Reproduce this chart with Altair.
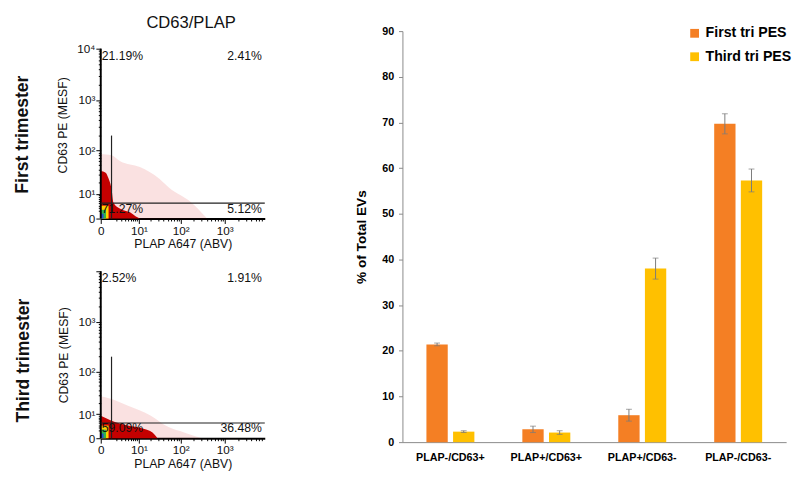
import altair as alt
import pandas as pd

FONT = "Liberation Sans"

# ---------------- bar chart data ----------------
CATS = ["PLAP-/CD63+", "PLAP+/CD63+", "PLAP+/CD63-", "PLAP-/CD63-"]
SERIES = ["First tri PES", "Third tri PES"]
COLORS = ["#F47F24", "#FFC000"]
FIRST_MEAN = [21.4, 2.8, 5.9, 69.7]
FIRST_ERR = [0.3, 0.7, 1.3, 2.2]
THIRD_MEAN = [2.3, 2.1, 38.0, 57.3]
THIRD_ERR = [0.2, 0.4, 2.3, 2.5]
Y_TICKS = [0, 10, 20, 30, 40, 50, 60, 70, 80, 90]

# ---------------- flow panel data ----------------
X_MAJOR = [0, 10, 100, 1000]
X_MINOR = [2, 3, 4, 5, 6, 7, 8, 9, 20, 30, 40, 50, 60, 70, 80, 90,
           200, 300, 400, 500, 600, 700, 800, 900,
           2000, 3000, 4000, 5000, 6000, 7000]
Y_MAJOR = [0, 10, 100, 1000, 10000]
Y_MINOR = [2, 3, 4, 5, 6, 7, 8, 9, 20, 30, 40, 50, 60, 70, 80, 90,
           200, 300, 400, 500, 600, 700, 800, 900,
           2000, 3000, 4000, 5000, 6000, 7000, 8000, 9000]
X_MAX = 8000
Y_MAX = 10000
Y_TOP_PANEL1 = 21925   # headroom above 10^4 in the first panel (aligns with bar chart top)
GATE_X = 1.2
GATE_Y = 5
GATE_TOP = 200

P1_DENSE_X = [0, 0.46, 0.8, 1.2, 1.5, 2.8, 5.7, 8.3, 10.6]
P1_DENSE_Y = [37, 34, 25, 14, 5.2, 2.8, 1.6, 0.5, 0]
P1_SPARSE_X = [0, 1.2, 2.8, 10.6, 31.9, 54, 177, 400]
P1_SPARSE_Y = [85, 80, 60, 45, 24.6, 14.8, 5.2, 0]
P1_PCTS = ["21.19%", "2.41%", "71.27%", "5.12%"]

P2_DENSE_X = [0, 1.2, 5.0, 12.6, 21.9, 28.7]
P2_DENSE_Y = [8.9, 6.1, 3.9, 2.8, 1.5, 0]
P2_SPARSE_X = [0, 1.2, 5, 20, 51, 120, 300]
P2_SPARSE_Y = [29, 25, 17, 9, 3.4, 1.5, 0]
P2_PCTS = ["2.52%", "1.91%", "59.09%", "36.48%"]

PCT_X = [0, X_MAX, 0, X_MAX]
PCT_Y = [7300, 7300, 2.8, 2.8]
PCT_SIDE = ["left", "right", "left", "right"]

PATCH_COLORS = ["#FFD200", "#33B24A", "#2450C8"]
PATCH_X2 = [0.8, 0.5, 0.25]
PATCH_Y2 = [3.9, 2.4, 1.2]

SUP = {0: "0", 10: "10¹", 100: "10²", 1000: "10³", 10000: "10⁴"}


def label_expr(majors):
    parts = []
    for v in majors:
        parts.append(f"datum.value == {v} ? '{SUP[v]}' : ")
    return "".join(parts) + "''"


def tick_cond(majors):
    arr = ",".join(str(v) for v in majors)
    return {"condition": {"test": f"indexof([{arr}], datum.value) >= 0", "value": 5},
            "value": 2.5}


def make_panel(dx, dy, sx, sy, pcts, row_title, y_majors_labeled, top_title, y_top,
               height, title_shift):
    xs = alt.Scale(type="symlog", constant=1.6, domain=[0, X_MAX], nice=False)
    ys = alt.Scale(type="symlog", constant=5, domain=[0, y_top], nice=False)
    x_axis = alt.Axis(values=X_MAJOR + X_MINOR, tickCount=100, labelExpr=label_expr(X_MAJOR),
                      tickSize=tick_cond(X_MAJOR), title="PLAP A647 (ABV)", labelOverlap=False,
                      titleFontSize=12.5, titleFontWeight="normal", labelFontSize=12,
                      labelFlush=False, domainColor="black", domainWidth=2,
                      tickColor="black", grid=False, labelPadding=2, titlePadding=2,
                      labelColor="#111", titleColor="#111")
    y_axis = alt.Axis(values=Y_MAJOR + Y_MINOR, tickCount=100,
                      labelExpr=label_expr(y_majors_labeled),
                      tickSize=tick_cond(Y_MAJOR), title="CD63 PE (MESF)", labelOverlap=False,
                      titleFontSize=12.5, titleFontWeight="normal", labelFontSize=12,
                      domain=False, tickColor="black", grid=False,
                      labelPadding=1, titlePadding=8, labelColor="#111", titleColor="#111")

    sparse = pd.DataFrame({"x": sx, "y": sy, "b": [0] * len(sx)})
    dense = pd.DataFrame({"x": dx, "y": dy, "b": [0] * len(dx)})
    patches = pd.DataFrame({"x": [0] * 3, "x2": PATCH_X2, "y": [0] * 3, "y2": PATCH_Y2,
                            "c": PATCH_COLORS})
    gates_v = pd.DataFrame({"x": [GATE_X], "y": [0], "y2": [GATE_TOP]})
    gates_h = pd.DataFrame({"x": [0], "x2": [X_MAX], "y": [GATE_Y]})
    yline = pd.DataFrame({"x": [0], "y": [0], "y2": [Y_MAX]})
    labels = pd.DataFrame({"t": pcts, "x": PCT_X, "y": PCT_Y, "side": PCT_SIDE})

    def nx():
        return alt.X("x:Q", scale=xs, axis=None)

    ny = alt.Y("y:Q", scale=ys)

    l_sparse = alt.Chart(sparse).mark_area(color="#D81818", opacity=0.13, interpolate="monotone").encode(
        x=alt.X("x:Q", scale=xs, axis=x_axis), y=alt.Y("y:Q", scale=ys, axis=y_axis), y2="b:Q")
    l_dense = alt.Chart(dense).mark_area(color="#C40000", interpolate="monotone").encode(
        x=nx(), y=ny, y2="b:Q")
    l_patch = alt.Chart(patches).mark_rect().encode(
        x=nx(), x2="x2:Q", y=ny, y2="y2:Q", color=alt.Color("c:N", scale=None, legend=None))
    l_yline = alt.Chart(yline).mark_rule(color="black", strokeWidth=2).encode(
        x=nx(), y=ny, y2="y2:Q")
    l_gv = alt.Chart(gates_v).mark_rule(color="#222", strokeWidth=1.2).encode(
        x=nx(), y=ny, y2="y2:Q")
    if top_title:
        top_axis = alt.Axis(orient="top", title=top_title, labels=False, ticks=False,
                            domain=False, grid=False, titleFontSize=17, titleFontWeight="normal",
                            titleColor="#111", titlePadding=0, titleX=92)
        gh_x = alt.X("x:Q", scale=xs, axis=top_axis)
    else:
        gh_x = nx()
    l_gh = alt.Chart(gates_h).mark_rule(color="#222", strokeWidth=1.2).encode(
        x=gh_x, x2="x2:Q", y=ny)
    l_tl = alt.Chart(labels).transform_filter("datum.side == 'left'").mark_text(
        align="left", baseline="middle", dx=1, fontSize=12.5, color="#111").encode(
        x=nx(), y=ny, text="t:N")
    l_tr = alt.Chart(labels).transform_filter("datum.side == 'right'").mark_text(
        align="right", baseline="middle", dx=-3, fontSize=12.5, color="#111").encode(
        x=nx(), y=ny, text="t:N")

    return alt.layer(l_sparse, l_dense, l_patch, l_yline, l_gv, l_gh, l_tl, l_tr).resolve_axis(
        x="independent").properties(
        width=168, height=height,
        title=alt.TitleParams(row_title, orient="left", anchor="middle", frame="group",
                              fontSize=18, fontWeight="bold", color="#111", offset=25,
                              dx=title_shift))


panel1 = make_panel(P1_DENSE_X, P1_DENSE_Y, P1_SPARSE_X, P1_SPARSE_Y, P1_PCTS,
                    "First trimester", [0, 10, 100, 1000, 10000], "CD63/PLAP",
                    Y_TOP_PANEL1, 192, -10)
panel2 = make_panel(P2_DENSE_X, P2_DENSE_Y, P2_SPARSE_X, P2_SPARSE_Y, P2_PCTS,
                    "Third trimester", [0, 10, 100, 1000], None, Y_MAX, 171, -6)

left_col = alt.vconcat(panel1, panel2, spacing=15)

# ---------------- bar chart ----------------
rows = []
for i, c in enumerate(CATS):
    rows.append({"cat": c, "series": SERIES[0], "v": FIRST_MEAN[i],
                 "lo": FIRST_MEAN[i] - FIRST_ERR[i], "hi": FIRST_MEAN[i] + FIRST_ERR[i]})
    rows.append({"cat": c, "series": SERIES[1], "v": THIRD_MEAN[i],
                 "lo": THIRD_MEAN[i] - THIRD_ERR[i], "hi": THIRD_MEAN[i] + THIRD_ERR[i]})
bdf = pd.DataFrame(rows)

xb = alt.X("cat:N", sort=CATS, scale=alt.Scale(paddingInner=0.5, paddingOuter=0.25),
           axis=alt.Axis(title=None, labelAngle=0, labelFontWeight="bold", labelFontSize=11,
                         ticks=False, domainColor="#888", labelPadding=10, labelColor="#000"))
xo = alt.XOffset("series:N", sort=SERIES, scale=alt.Scale(paddingInner=0.2, paddingOuter=0))
yb = alt.Y("v:Q", scale=alt.Scale(domain=[0, 90], nice=False),
           axis=alt.Axis(values=Y_TICKS, title="% of Total EVs", titleFontSize=14,
                         titleFontWeight="bold", labelFontWeight="bold", labelFontSize=11,
                         domainColor="#888", tickColor="#888", tickSize=4, grid=False,
                         labelPadding=5, titlePadding=14, labelColor="#000", titleColor="#000"))

bars = alt.Chart(bdf).mark_bar().encode(
    x=xb, xOffset=xo, y=yb,
    color=alt.Color("series:N", sort=SERIES, scale=alt.Scale(domain=SERIES, range=COLORS),
                    legend=alt.Legend(title=None, orient="none", legendX=292, legendY=-5,
                                      symbolType="square", symbolSize=81, labelFontSize=14.5,
                                      labelFontWeight="bold", labelColor="#000",
                                      rowPadding=9, padding=0, symbolStrokeWidth=0)))
err = alt.Chart(bdf).mark_rule(color="#7a7a7a", strokeWidth=1).encode(
    x=alt.X("cat:N", sort=CATS), xOffset=xo, y="lo:Q", y2="hi:Q")
cap_hi = alt.Chart(bdf).mark_tick(color="#7a7a7a", thickness=1, size=6).encode(
    x=alt.X("cat:N", sort=CATS), xOffset=xo, y="hi:Q")
cap_lo = alt.Chart(bdf).mark_tick(color="#7a7a7a", thickness=1, size=6).encode(
    x=alt.X("cat:N", sort=CATS), xOffset=xo, y="lo:Q")

bar_chart = alt.layer(bars, err, cap_hi, cap_lo).properties(width=393, height=421)

chart = alt.hconcat(left_col, bar_chart, spacing=90).resolve_scale(
    color="independent").resolve_legend(color="independent").properties(
    padding={"left": 6, "top": 0, "right": 0, "bottom": 0}
).configure(font=FONT).configure_view(stroke=None)

chart.save("out.html", embed_options={"renderer": "svg", "actions": False})
